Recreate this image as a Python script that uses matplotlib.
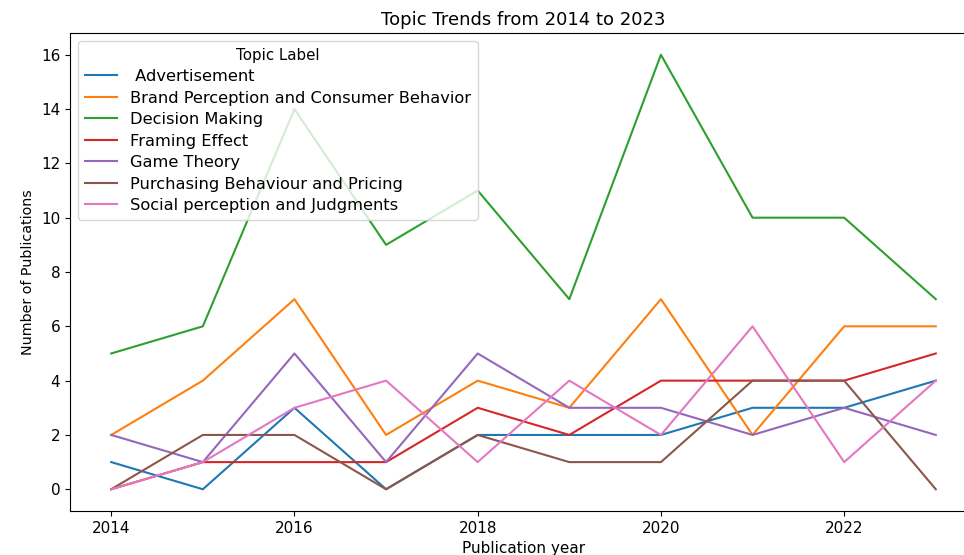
import matplotlib
matplotlib.use('Agg')
import matplotlib.pyplot as plt

years = [2014, 2015, 2016, 2017, 2018, 2019, 2020, 2021, 2022, 2023]

advertisement = [1, 0, 3, 0, 2, 2, 2, 3, 3, 4]
brand = [2, 4, 7, 2, 4, 3, 7, 2, 6, 6]
decision = [5, 6, 14, 9, 11, 7, 16, 10, 10, 7]
framing = [0, 1, 1, 1, 3, 2, 4, 4, 4, 5]
game = [2, 1, 5, 1, 5, 3, 3, 2, 3, 2]
purchasing = [0, 2, 2, 0, 2, 1, 1, 4, 4, 0]
social = [0, 1, 3, 4, 1, 4, 2, 6, 1, 4]

topics = [' Advertisement', 'Brand Perception and Consumer Behavior',
          'Decision Making', 'Framing Effect', 'Game Theory',
          'Purchasing Behaviour and Pricing', 'Social perception and Judgments']
series = [advertisement, brand, decision, framing, game, purchasing, social]
colors = ['#1f77b4', '#ff7f0e', '#2ca02c', '#d62728', '#9467bd', '#8c564b', '#e377c2']

plt.rcParams['font.size'] = 11

fig, ax = plt.subplots(figsize=(9.64, 5.55), dpi=100)
for name, vals, c in zip(topics, series, colors):
    ax.plot(years, vals, label=name, color=c)

ax.set_title('Topic Trends from 2014 to 2023', fontsize=13)
ax.set_xlabel('Publication year')
ax.set_ylabel('Number of Publications', fontsize=10.3)
ax.set_yticks(range(0, 17, 2))
ax.legend(title='Topic Label', loc='upper left', fontsize=11.7,
          title_fontsize=10.8, labelspacing=0.4)

# the reference is cut off on the right, so the axes run past the edge
ax.spines['right'].set_visible(False)
fig.subplots_adjust(left=0.0726, right=1.0135, top=0.9405, bottom=0.0793)
fig.savefig('out.png', dpi=100)
